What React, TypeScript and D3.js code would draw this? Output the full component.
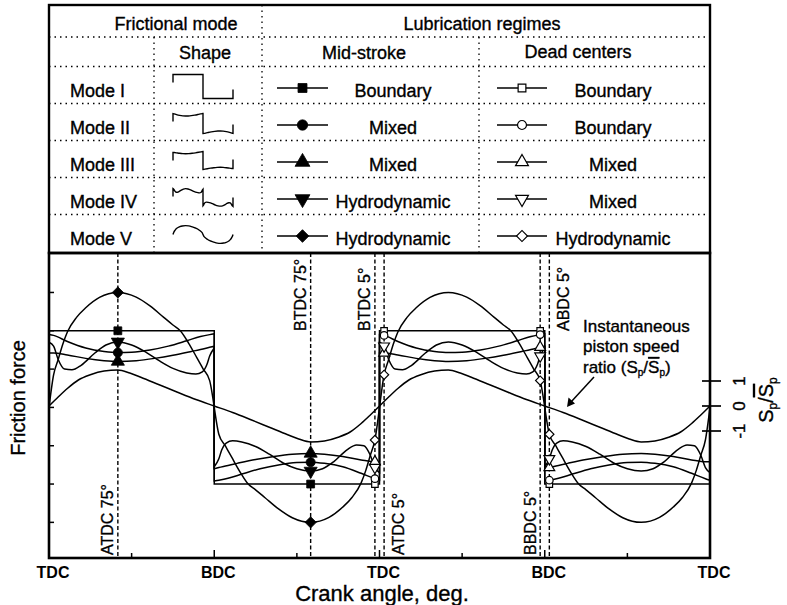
import React from "react";
import * as d3 from "d3";

type Pt = [number, number];

const W = 787;
const H = 605;
const FONT = "'Liberation Sans', Arial, Helvetica, sans-serif";

// frame of the table and the plot
const PLOT = { left: 49, right: 710, top: 253, bottom: 558 };
const TABLE_TOP = 5;

// crank angle axis
const angleTicks = [0, 90, 180, 270, 360, 450, 540, 630, 720];
const labelAngles = [0, 180, 360, 540, 720];
const angleLabels = ["TDC", "BDC", "TDC", "BDC", "TDC"];
const cycleStarts = [0, 360];

// friction force ticks (no labels) and speed ratio ticks
const frictionTicks = [-3, -2, -1, 0, 1, 2, 3];
const speedTicks = [-1, 0, 1];

// table contents
const modeNames = ["Mode I", "Mode II", "Mode III", "Mode IV", "Mode V"];
const midStrokeRegimes = ["Boundary", "Mixed", "Mixed", "Hydrodynamic", "Hydrodynamic"];
const deadCenterRegimes = ["Boundary", "Boundary", "Mixed", "Mixed", "Hydrodynamic"];

// friction force over one cycle: [crank angle, value]
const mode1Pos: Pt[] = [[0, 2], [5, 2], [75, 2], [175, 2], [180, 2]];
const mode1Neg: Pt[] = [[180, -2], [185, -2], [285, -2], [355, -2], [360, -2]];

const mode2Pos: Pt[] = [[0, 1.9], [5, 1.88], [20, 1.72], [40, 1.55], [60, 1.46], [75, 1.43], [90, 1.44], [110, 1.5], [130, 1.6], [150, 1.74], [165, 1.85], [175, 1.9], [180, 1.92]];
const mode2Neg: Pt[] = [[180, -1.92], [185, -1.9], [195, -1.85], [210, -1.74], [230, -1.6], [250, -1.5], [270, -1.44], [285, -1.43], [300, -1.46], [320, -1.55], [340, -1.72], [355, -1.86], [360, -1.9]];

const mode3Pos: Pt[] = [[0, 1.42], [5, 1.42], [20, 1.37], [40, 1.28], [60, 1.22], [75, 1.2], [95, 1.22], [115, 1.28], [135, 1.36], [155, 1.46], [170, 1.54], [175, 1.57], [180, 1.6]];
const mode3Neg: Pt[] = [[180, -1.6], [185, -1.57], [190, -1.54], [205, -1.46], [225, -1.36], [245, -1.28], [265, -1.22], [285, -1.2], [300, -1.22], [320, -1.28], [340, -1.37], [355, -1.42], [360, -1.42]];

const mode4Pos: Pt[] = [[0, 1.7], [5, 1.6], [10, 1.25], [17, 1.0], [25, 0.98], [35, 1.1], [50, 1.42], [62, 1.63], [75, 1.71], [90, 1.63], [105, 1.45], [120, 1.22], [135, 1.02], [150, 0.9], [160, 0.87], [167, 0.93], [172, 1.12], [175, 1.34], [180, 1.55]];
const mode4Neg: Pt[] = [[180, -1.55], [185, -1.34], [188, -1.12], [193, -0.93], [200, -0.87], [210, -0.9], [225, -1.02], [240, -1.22], [255, -1.45], [270, -1.6], [285, -1.66], [298, -1.6], [310, -1.42], [325, -1.1], [335, -0.98], [343, -1.0], [350, -1.25], [355, -1.57], [360, -1.7]];

const mode5Pos: Pt[] = [[0, 0], [5, 0.85], [10, 1.25], [15, 1.65], [20, 1.97], [30, 2.35], [40, 2.6], [55, 2.87], [75, 3.0], [95, 2.88], [110, 2.65], [125, 2.35], [135, 2.15], [143, 2.0], [152, 1.68], [161, 1.3], [168, 1.0], [175, 0.7], [180, 0]];
const mode5Neg: Pt[] = [[180, 0], [185, -0.7], [192, -1.0], [199, -1.3], [208, -1.68], [217, -2.0], [225, -2.15], [235, -2.35], [250, -2.65], [265, -2.88], [285, -3.0], [305, -2.87], [320, -2.6], [330, -2.35], [340, -1.97], [345, -1.65], [350, -1.25], [355, -0.85], [360, 0]];

const modesPos = [mode1Pos, mode2Pos, mode3Pos, mode4Pos, mode5Pos];
const modesNeg = [mode1Neg, mode2Neg, mode3Neg, mode4Neg, mode5Neg];

// instantaneous piston speed ratio Sp / mean Sp
const speedPos: Pt[] = [[0, 0], [10, 0.36], [20, 0.7], [32, 1.04], [45, 1.25], [60, 1.4], [75, 1.44], [88, 1.32], [100, 1.15], [120, 0.85], [140, 0.55], [160, 0.26], [180, 0]];
const speedNeg: Pt[] = [[180, 0], [200, -0.26], [220, -0.55], [240, -0.85], [260, -1.15], [272, -1.32], [285, -1.44], [300, -1.4], [315, -1.25], [328, -1.04], [340, -0.7], [350, -0.36], [360, 0]];

// where the markers sit
const midStrokeAngles = [75, 285];
const deadCenterAngles = [355, 365, 535, 545];

// dashed guide lines
const guideAngles = [75, 285, 355, 365, 535, 545];
const guideLabels = ["ATDC 75°", "BTDC 75°", "BTDC 5°", "ATDC 5°", "BBDC 5°", "ABDC 5°"];
const guideSide = ["left", "left", "left", "right", "left", "right"];
const guideEnd = ["bottom", "top", "top", "bottom", "bottom", "top"];

// table layout
const rowTops = [66.5, 103.5, 140.5, 177.5, 214.5];
const hLines = [37, 66.5, 103.5, 140.5, 177.5, 214.5];
const iconAmp = [12, 10, 9, 9, 9];

const symbolTypes = [d3.symbolSquare, d3.symbolCircle, d3.symbolTriangle, d3.symbolTriangle, d3.symbolSquare];
const symbolRot = [0, 0, 0, 180, 45];
const symbolScale = [1, 1.05, 1.2, 1.2, 1];

const x = d3.scaleLinear().domain([0, 720]).range([PLOT.left, PLOT.right]);
const yF = d3.scaleLinear().domain([-3.93, 4.03]).range([PLOT.bottom, PLOT.top]);
const yS = d3.scaleLinear().domain([-6.08, 6.12]).range([PLOT.bottom, PLOT.top]);

// heavier text, closer to the scanned original
const INK = { fill: "#000", stroke: "#000", strokeWidth: 0.35 };

const valueAt = (m: number, angle: number) => {
  const local = angle % 360;
  const half = local < 180 ? modesPos[m] : modesNeg[m];
  const p = half.find((d) => d[0] === local);
  return p ? p[1] : 0;
};

const modePath = (m: number) => {
  const gen = d3
    .line<Pt>()
    .x((d) => x(d[0]))
    .y((d) => yF(d[1]))
    .curve(m === 0 ? d3.curveLinear : d3.curveMonotoneX);
  let path = "";
  cycleStarts.forEach((c) => {
    [modesPos[m], modesNeg[m]].forEach((half) => {
      const seg = gen(half.map((p) => [p[0] + c, p[1]] as Pt)) || "";
      path += path === "" ? seg : "L" + seg.slice(1);
    });
  });
  return path;
};

const speedPath = () => {
  const pts: Pt[] = [];
  cycleStarts.forEach((c, ci) => {
    [...speedPos, ...speedNeg.slice(1)].forEach((p, i) => {
      if (ci > 0 && i === 0) return;
      pts.push([p[0] + c, p[1]]);
    });
  });
  return (
    d3
      .line<Pt>()
      .x((d) => x(d[0]))
      .y((d) => yS(d[1]))
      .curve(d3.curveMonotoneX)(pts) || ""
  );
};

const iconPath = (m: number, cy: number) => {
  const ix = d3.scaleLinear().domain([0, 360]).range([173, 233]);
  const maxAbs = d3.max([...modesPos[m], ...modesNeg[m]], (d) => Math.abs(d[1])) || 1;
  const iy = d3.scaleLinear().domain([-maxAbs, maxAbs]).range([cy + iconAmp[m], cy - iconAmp[m]]);
  const gen = d3
    .line<Pt>()
    .x((d) => ix(d[0]))
    .y((d) => iy(d[1]))
    .curve(m === 0 ? d3.curveLinear : d3.curveBasis);
  const a = gen(modesPos[m]) || "";
  const b = gen(modesNeg[m]) || "";
  const v0 = modesPos[m][0][1];
  const v1 = modesNeg[m][modesNeg[m].length - 1][1];
  let path = "";
  if (Math.abs(v0) > 0.5) path += `M${ix(0)},${iy(v0) + 8}L${a.slice(1)}`;
  else path += a;
  path += "L" + b.slice(1);
  if (Math.abs(v1) > 0.5) path += `L${ix(360)},${iy(v1) - 9}`;
  return path;
};

const Marker = ({ m, cx, cy, filled, size }: { m: number; cx: number; cy: number; filled: boolean; size: number }) => (
  <path
    d={d3.symbol().type(symbolTypes[m]).size(size * symbolScale[m])() || ""}
    transform={`translate(${cx},${cy}) rotate(${symbolRot[m]})`}
    fill={filled ? "#000" : "#fff"}
    stroke="#000"
    strokeWidth={filled ? 0.8 : 1.2}
  />
);

export default function App() {
  const lineH = 21.5;
  return (
    <svg
      width={W}
      height={H}
      style={{ position: "absolute", left: 0, top: 0, background: "#fff" }}
      fontFamily={FONT}
    >
      <rect x={0} y={0} width={W} height={H} fill="#fff" />

      {/* ---------- table ---------- */}
      <g stroke="#000" strokeWidth={1.3} strokeDasharray="1.5 4" fill="none">
        {hLines.map((y, i) => (
          <line key={i} x1={PLOT.left} x2={PLOT.right} y1={y} y2={y} />
        ))}
        <line x1={262} x2={262} y1={TABLE_TOP} y2={PLOT.top} />
        <line x1={154} x2={154} y1={37} y2={PLOT.top} />
        <line x1={479} x2={479} y1={37} y2={PLOT.top} />
      </g>
      <rect
        x={PLOT.left}
        y={TABLE_TOP}
        width={PLOT.right - PLOT.left}
        height={PLOT.top - TABLE_TOP}
        fill="none"
        stroke="#000"
        strokeWidth={2.4}
      />
      <g fontSize={18} {...INK}>
        <text x={176} y={30} textAnchor="middle">Frictional mode</text>
        <text x={482} y={30} textAnchor="middle">Lubrication regimes</text>
        <text x={205} y={59} textAnchor="middle">Shape</text>
        <text x={364} y={59} textAnchor="middle">Mid-stroke</text>
        <text x={578} y={58} textAnchor="middle">Dead centers</text>
        {modeNames.map((name, m) => (
          <g key={name}>
            <text x={70} y={rowTops[m] + 30.5}>{name}</text>
            <text x={393} y={rowTops[m] + 30.5} textAnchor="middle">{midStrokeRegimes[m]}</text>
            <text x={613} y={rowTops[m] + 30.5} textAnchor="middle">{deadCenterRegimes[m]}</text>
          </g>
        ))}
      </g>
      {modeNames.map((name, m) => {
        const ly = rowTops[m] + lineH;
        return (
          <g key={"leg" + name}>
            <path d={iconPath(m, rowTops[m] + 20)} fill="none" stroke="#000" strokeWidth={1.4} />
            <line x1={277} x2={328} y1={ly} y2={ly} stroke="#000" strokeWidth={1.4} />
            <Marker m={m} cx={302.5} cy={ly} filled size={80} />
            <line x1={497} x2={547} y1={ly} y2={ly} stroke="#000" strokeWidth={1.4} />
            <Marker m={m} cx={522} cy={ly} filled={false} size={60} />
          </g>
        );
      })}

      {/* ---------- chart ---------- */}
      <g stroke="#000" strokeWidth={1.4} strokeDasharray="4 2.5">
        {guideAngles.map((a) => (
          <line key={a} x1={x(a)} x2={x(a)} y1={PLOT.top} y2={PLOT.bottom} />
        ))}
      </g>
      <g fontSize={16} {...INK}>
        {guideLabels.map((t, i) => {
          const lx = x(guideAngles[i]);
          const bx = guideSide[i] === "left" ? lx - 4.5 : lx + 20;
          const by = guideEnd[i] === "bottom" ? 555 : 331;
          return (
            <text key={t} transform={`translate(${bx},${by}) rotate(-90)`}>
              {t}
            </text>
          );
        })}
      </g>

      <path d={speedPath()} fill="none" stroke="#000" strokeWidth={1.5} />
      {modeNames.map((name, m) => (
        <path key={"c" + name} d={modePath(m)} fill="none" stroke="#000" strokeWidth={1.5} />
      ))}
      {modeNames.map((name, m) => (
        <g key={"mk" + name}>
          {midStrokeAngles.map((a) => (
            <Marker key={a} m={m} cx={x(a)} cy={yF(valueAt(m, a))} filled size={62} />
          ))}
          {deadCenterAngles.map((a) => (
            <Marker key={a} m={m} cx={x(a)} cy={yF(valueAt(m, a))} filled={false} size={42} />
          ))}
        </g>
      ))}

      {/* frame and ticks */}
      <rect
        x={PLOT.left}
        y={PLOT.top}
        width={PLOT.right - PLOT.left}
        height={PLOT.bottom - PLOT.top}
        fill="none"
        stroke="#000"
        strokeWidth={2.6}
      />
      <g stroke="#000" strokeWidth={1.5}>
        {frictionTicks.map((t) => (
          <line key={t} x1={PLOT.left} x2={PLOT.left + 5} y1={yF(t)} y2={yF(t)} />
        ))}
        {angleTicks.map((a) => (
          <line
            key={a}
            x1={x(a)}
            x2={x(a)}
            y1={PLOT.bottom}
            y2={PLOT.bottom - (a % 180 === 0 ? 8 : 5)}
          />
        ))}
        {speedTicks.map((t) => (
          <line key={t} x1={PLOT.right - 8} x2={PLOT.right + 11} y1={yS(t)} y2={yS(t)} strokeWidth={1.7} />
        ))}
      </g>
      <g fontSize={16} fontWeight="bold" fill="#000">
        {labelAngles.map((a, i) => (
          <text key={a} x={x(a) + 4} y={578} textAnchor="middle">
            {angleLabels[i]}
          </text>
        ))}
      </g>
      <g fontSize={17} {...INK}>
        {speedTicks.map((t) => (
          <text key={t} transform={`translate(745,${yS(t)}) rotate(-90)`} textAnchor="middle">
            {t}
          </text>
        ))}
      </g>
      <text transform="translate(773,400) rotate(-90)" textAnchor="middle" fontSize={20} {...INK}>
        S<tspan dy={4} fontSize={12}>p</tspan>
        <tspan dy={-4}>/</tspan>
        <tspan style={{ textDecoration: "overline" }}>S</tspan>
        <tspan dy={4} fontSize={12}>p</tspan>
      </text>

      <text transform="translate(25,398) rotate(-90)" textAnchor="middle" fontSize={20} {...INK}>
        Friction force
      </text>
      <text x={382} y={601} textAnchor="middle" fontSize={22} {...INK}>
        Crank angle, deg.
      </text>

      {/* annotation */}
      <g fontSize={17} {...INK}>
        <text x={583} y={332}>Instantaneous</text>
        <text x={583} y={352}>piston speed</text>
        <text x={583} y={373}>
          ratio (S<tspan dy={3} fontSize={10}>p</tspan>
          <tspan dy={-3}>/</tspan>
          <tspan style={{ textDecoration: "overline" }}>S</tspan>
          <tspan dy={3} fontSize={10}>p</tspan>
          <tspan dy={-3}>)</tspan>
        </text>
      </g>
      <line x1={594} y1={377} x2={571} y2={402} stroke="#000" strokeWidth={1.5} />
      <path d="M567,407 L568.5,397.5 L575,403.5 Z" fill="#000" />
    </svg>
  );
}
